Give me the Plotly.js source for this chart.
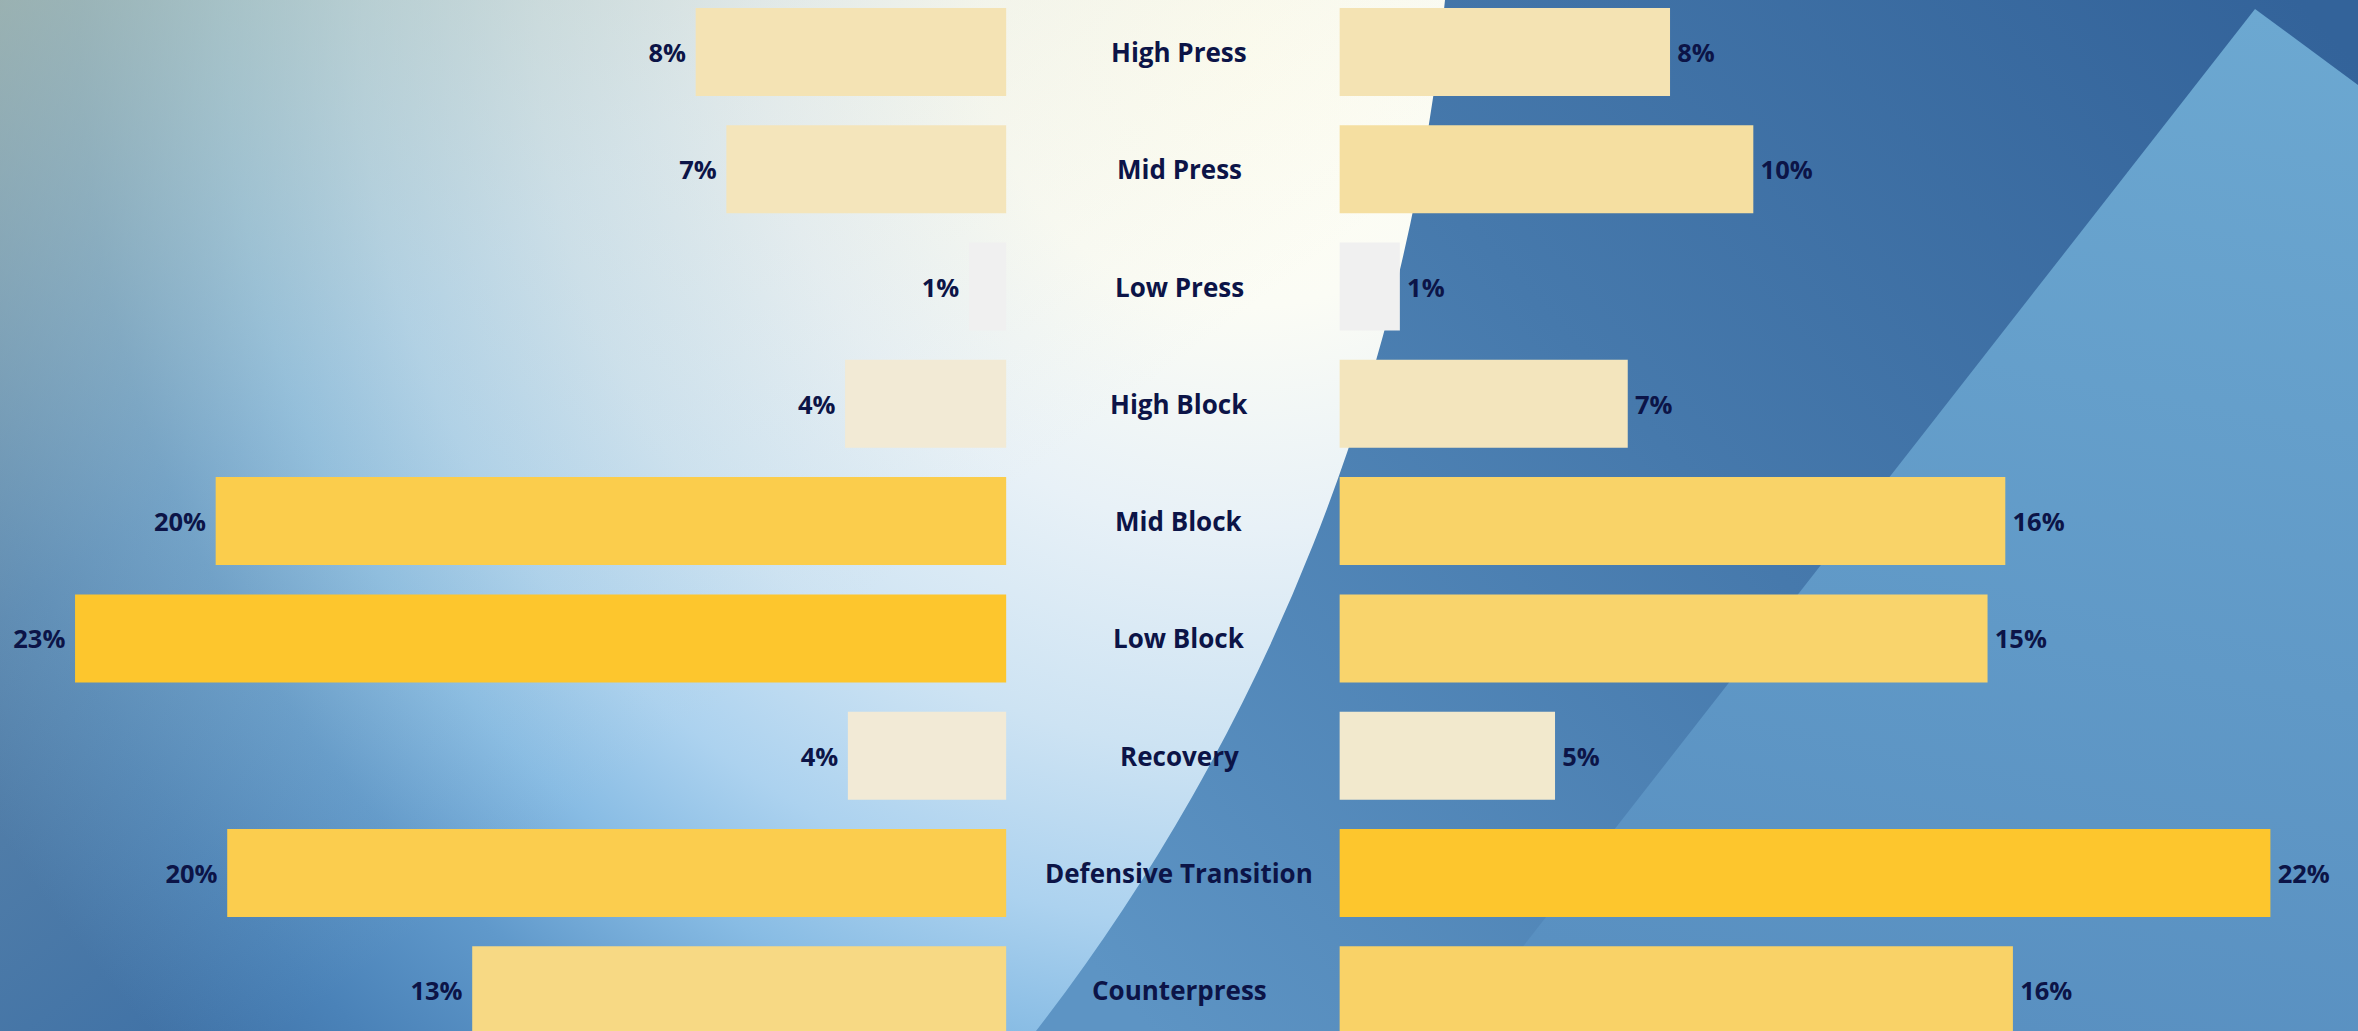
<!DOCTYPE html>
<html>
<head>
<meta charset="utf-8">
<script src="https://cdn.plot.ly/plotly-3.0.1.min.js"></script>
<style>
  html, body { margin: 0; padding: 0; overflow: hidden; background: #ffffff; }
  #chart { width: 2358px; height: 1031px; }
</style>
</head>
<body>
<div id="chart"></div>
<script>
// ---- data ----
var categories = ["High Press", "Mid Press", "Low Press", "High Block", "Mid Block",
                  "Low Block", "Recovery", "Defensive Transition", "Counterpress"];
var leftValues  = [7.80, 7.03, 0.94, 4.05, 19.85, 23.38, 3.98, 19.56, 13.41];
var rightValues = [7.82, 9.79, 1.43, 6.82, 15.75, 15.33, 5.10, 22.02, 15.93];

// ---- styling ----
var W = 2358, H = 1031;
var navy = "#0c1447";
var barScale = [[0, "#f0f0f0"], [1, "#fdc62d"]];

// decorative background artwork as an SVG image placed under the plot
function buildBackground() {
  var svg =
    "<svg xmlns='http://www.w3.org/2000/svg' width='" + W + "' height='" + H + "' viewBox='0 0 " + W + " " + H + "' preserveAspectRatio='none'>" +
    "<defs>" +
      "<radialGradient id='glow' gradientUnits='userSpaceOnUse' cx='1250' cy='40' r='1480'>" +
        "<stop offset='0' stop-color='#fffef2'/>" +
        "<stop offset='0.18' stop-color='#fbfcf5'/>" +
        "<stop offset='0.33' stop-color='#e8f1f7'/>" +
        "<stop offset='0.48' stop-color='#cde3f3'/>" +
        "<stop offset='0.6' stop-color='#acd2ef'/>" +
        "<stop offset='0.69' stop-color='#88bce4'/>" +
        "<stop offset='0.79' stop-color='#6099cb'/>" +
        "<stop offset='0.9' stop-color='#4a82b8'/>" +
        "<stop offset='1' stop-color='#3d70a6'/>" +
      "</radialGradient>" +
      "<linearGradient id='tint' gradientUnits='userSpaceOnUse' x1='0' y1='0' x2='600' y2='800'>" +
        "<stop offset='0' stop-color='#c4c7a8' stop-opacity='0.62'/>" +
        "<stop offset='0.5' stop-color='#c8ccb4' stop-opacity='0.2'/>" +
        "<stop offset='1' stop-color='#c8ccb4' stop-opacity='0'/>" +
      "</linearGradient>" +
      "<linearGradient id='dark' gradientUnits='userSpaceOnUse' x1='2300' y1='0' x2='1150' y2='1031'>" +
        "<stop offset='0' stop-color='#33639a'/>" +
        "<stop offset='0.5' stop-color='#4679ac'/>" +
        "<stop offset='1' stop-color='#5d94c4'/>" +
      "</linearGradient>" +
      "<linearGradient id='tri' gradientUnits='userSpaceOnUse' x1='2200' y1='0' x2='2000' y2='1031'>" +
        "<stop offset='0' stop-color='#6ca8d1'/>" +
        "<stop offset='1' stop-color='#5990c1'/>" +
      "</linearGradient>" +
    "</defs>" +
    "<rect x='0' y='0' width='" + W + "' height='" + H + "' fill='url(#glow)'/>" +
    "<rect x='0' y='0' width='" + W + "' height='" + H + "' fill='url(#tint)'/>" +
    "<path d='M1445 0 A2004 2004 0 0 1 1036 1031 L2358 1031 L2358 0 Z' fill='url(#dark)'/>" +
    "<path d='M2255 9 L2358 85 L2358 1031 L1457 1031 Z' fill='url(#tri)'/>" +
    "</svg>";
  return "data:image/svg+xml;charset=utf-8," + encodeURIComponent(svg);
}

function minOf(a) { return Math.min.apply(null, a); }
function maxOf(a) { return Math.max.apply(null, a); }

var valueFont = { family: "Open Sans, Noto Sans, sans-serif", size: 25.5, color: navy, weight: 700 };

var leftTrace = {
  type: "bar", orientation: "h",
  x: leftValues, y: categories,
  xaxis: "x", yaxis: "y",
  width: 0.75,
  marker: { color: leftValues, colorscale: barScale, cmin: minOf(leftValues), cmax: maxOf(leftValues),
            line: { width: 0 } },
  texttemplate: "%{x:.0f}%\u00a0",
  textposition: "outside",
  cliponaxis: false,
  textfont: valueFont,
  hoverinfo: "skip"
};
var rightTrace = {
  type: "bar", orientation: "h",
  x: rightValues, y: categories,
  xaxis: "x2", yaxis: "y",
  width: 0.75,
  marker: { color: rightValues, colorscale: barScale, cmin: minOf(rightValues), cmax: maxOf(rightValues),
            line: { width: 0 } },
  texttemplate: "\u2009%{x:.0f}%",
  textposition: "outside",
  cliponaxis: false,
  textfont: valueFont,
  hoverinfo: "skip"
};

var annotations = categories.map(function (c) {
  return {
    x: 0.5, xref: "paper", y: c, yref: "y",
    text: c, showarrow: false, xanchor: "center", yanchor: "middle",
    font: { family: "Open Sans, Noto Sans, sans-serif", size: 26, color: navy, weight: 700 }
  };
});

var layout = {
  width: W, height: H,
  margin: { l: 0, r: 0, t: 0, b: 0, pad: 0 },
  paper_bgcolor: "rgba(0,0,0,0)",
  plot_bgcolor: "rgba(0,0,0,0)",
  showlegend: false,
  xaxis: { domain: [0, 1006.4 / W], range: [25.264, 0], autorange: false,
           showgrid: false, zeroline: false, showticklabels: false, ticks: "", showline: false },
  xaxis2: { domain: [1339.4 / W, 1], range: [0, 24.092], autorange: false,
            showgrid: false, zeroline: false, showticklabels: false, ticks: "", showline: false },
  yaxis: { type: "category", categoryorder: "array", categoryarray: categories,
           range: [8.347, -0.4425], autorange: false,
           showgrid: false, zeroline: false, showticklabels: false, ticks: "", showline: false },
  annotations: annotations,
  images: [{
    source: buildBackground(), xref: "paper", yref: "paper",
    x: 0, y: 1, sizex: 1, sizey: 1, xanchor: "left", yanchor: "top",
    sizing: "stretch", layer: "below"
  }]
};

Plotly.newPlot("chart", [leftTrace, rightTrace], layout, { displayModeBar: false, staticPlot: true });
</script>
</body>
</html>
